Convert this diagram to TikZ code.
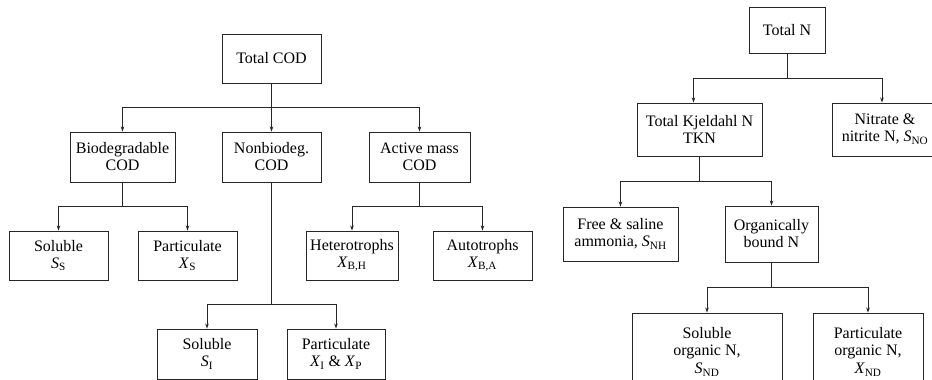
\documentclass[tikz,border=0pt]{standalone}
\usepackage{fontspec}
\setmainfont{Liberation Serif}
\usepackage{tikz}
\usetikzlibrary{arrows.meta,positioning}

\newcommand{\cvar}[2]{\textit{#1}\textsubscript{#2}}

\begin{document}
\begin{tikzpicture}[
  x=1pt, y=-1pt,
  font=\fontsize{16}{17}\selectfont,
  fraction/.style={draw=black!85, line width=0.9pt, align=center, inner sep=2pt, minimum height=49pt},
  split/.style={draw=black!85, line width=0.9pt, -{Stealth[length=5pt,width=3.5pt]}}
]
\clip (0,0) rectangle (932,380);
\fill[white] (0,0) rectangle (932,380);
% COD fractions
\node[fraction, minimum width=99pt] (cod) at (271.5,58.5) {Total COD};
\node[fraction, minimum width=105pt, minimum height=50pt] (biocod) at (122.5,157) {Biodegradable\\COD};
\node[fraction, minimum width=99pt, minimum height=50pt] (nbcod) at (271.5,157) {Nonbiodeg.\\COD};
\node[fraction, minimum width=101pt, minimum height=50pt] (actcod) at (419.5,157) {Active mass\\COD};
\node[fraction, minimum width=99pt] (ss) at (58.5,255.5) {Soluble\\\cvar{S}{S}};
\node[fraction, minimum width=99pt] (xs) at (187.5,255.5) {Particulate\\\cvar{X}{S}};
\node[fraction, minimum width=92pt] (xbh) at (352,255.5) {Heterotrophs\\\cvar{X}{B,H}};
\node[fraction, minimum width=99pt] (xba) at (482.5,255.5) {Autotrophs\\\cvar{X}{B,A}};
\node[fraction, minimum width=100pt, minimum height=50pt] (si) at (207,354) {Soluble\\\cvar{S}{I}};
\node[fraction, minimum width=98pt, minimum height=50pt] (xixp) at (336,354) {Particulate\\\cvar{X}{I} \& \cvar{X}{P}};
% nitrogen fractions
\node[fraction, minimum width=76pt, minimum height=46pt] (totn) at (787,30) {Total N};
\node[fraction, minimum width=125pt, minimum height=53pt] (tkn) at (699.5,129.5) {Total Kjeldahl N\\TKN};
\node[fraction, minimum width=106pt, minimum height=53pt] (sno) at (885,129.5) {Nitrate \&\\nitrite N, \cvar{S}{NO}};
\node[fraction, minimum width=115pt, minimum height=54pt] (snh) at (620.5,234) {Free \& saline\\ammonia, \cvar{S}{NH}};
\node[fraction, minimum width=93pt, minimum height=56pt] (orgn) at (771.5,234) {Organically\\bound N};
\node[fraction, minimum width=150pt, minimum height=78pt] (snd) at (707,352) {Soluble\\organic N,\\[1pt]\cvar{S}{ND}};
\node[fraction, minimum width=110pt, minimum height=78pt] (xnd) at (868,352) {Particulate\\organic N,\\[1pt]\cvar{X}{ND}};
% connectors
\foreach \child in {biocod,nbcod,actcod}
  \draw[split] (cod.south) -- ++(0,24) -| (\child.north);
\foreach \child in {ss,xs}
  \draw[split] (biocod.south) -- ++(0,24) -| (\child.north);
\foreach \child in {xbh,xba}
  \draw[split] (actcod.south) -- ++(0,24) -| (\child.north);
\foreach \child in {si,xixp}
  \draw[split] (nbcod.south) -- ++(0,122) -| (\child.north);
\draw[split] (totn.south) -- ++(0,25) -| ([xshift=-6pt]tkn.north);
\draw[split] (totn.south) -- ++(0,25) -| ([xshift=-3pt]sno.north);
\foreach \child in {snh,orgn}
  \draw[split] (tkn.south) -- ++(0,25) -| (\child.north);
\foreach \child in {snd,xnd}
  \draw[split] (orgn.south) -- ++(0,25) -| (\child.north);
\end{tikzpicture}
\end{document}
